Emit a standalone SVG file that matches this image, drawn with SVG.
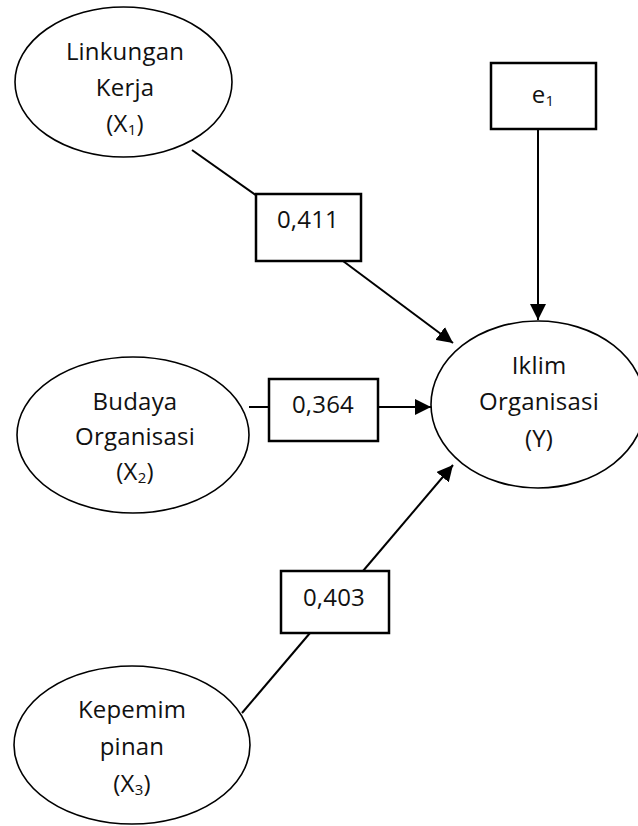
<svg xmlns="http://www.w3.org/2000/svg" width="638" height="826" viewBox="0 0 638 826">
<style>
.el{fill:#fff;stroke:#000;stroke-width:1.6}
.bx{fill:#fff;stroke:#000;stroke-width:2.5}
.ln{fill:none;stroke:#000;stroke-width:2}
text{font-family:"Open Sans","Liberation Sans",sans-serif;font-size:24px;letter-spacing:0.2px;fill:#111;text-anchor:middle}
.sub{font-size:15px}
</style>
<defs>
<marker id="ah" markerWidth="16" markerHeight="16" viewBox="0 0 16 16" refX="16" refY="8" orient="auto" markerUnits="userSpaceOnUse">
<path d="M0,0 L16,8 L0,16 Z" fill="#000"/>
</marker>
</defs>
<g id="connectors">
<line class="ln" x1="192" y1="150" x2="257" y2="196"/>
<line class="ln" x1="343" y1="261" x2="453" y2="343" marker-end="url(#ah)"/>
<line class="ln" x1="538" y1="129" x2="538" y2="320" marker-end="url(#ah)"/>
<line class="ln" x1="249" y1="407" x2="269" y2="407"/>
<line class="ln" x1="378" y1="407" x2="431" y2="407" marker-end="url(#ah)"/>
<line class="ln" x1="242" y1="713" x2="310" y2="633"/>
<line class="ln" x1="363" y1="571" x2="453" y2="465" marker-end="url(#ah)"/>
</g>
<g id="x1">
<ellipse class="el" cx="123.5" cy="82" rx="108.5" ry="75"/>
<text x="125" y="60">Linkungan</text>
<text x="125" y="96">Kerja</text>
<text x="125" y="132">(X<tspan class="sub" dy="3">1</tspan><tspan dy="-3">)</tspan></text>
</g>
<g id="e1">
<rect class="bx" x="491" y="63" width="105" height="66"/>
<text x="543" y="103">e<tspan class="sub" dy="3">1</tspan></text>
</g>
<g id="b411">
<rect class="bx" x="256" y="194" width="105" height="67"/>
<text x="308" y="228">0,411</text>
</g>
<g id="y">
<ellipse class="el" cx="538" cy="404.5" rx="107" ry="83.5"/>
<text x="539" y="374">Iklim</text>
<text x="539" y="410">Organisasi</text>
<text x="539" y="447">(Y)</text>
</g>
<g id="x2">
<ellipse class="el" cx="133" cy="435" rx="116" ry="78"/>
<text x="135" y="410">Budaya</text>
<text x="135" y="445">Organisasi</text>
<text x="135" y="480">(X<tspan class="sub" dy="3">2</tspan><tspan dy="-3">)</tspan></text>
</g>
<g id="b364">
<rect class="bx" x="269" y="379" width="109" height="62"/>
<text x="323" y="413">0,364</text>
</g>
<g id="b403">
<rect class="bx" x="281" y="571" width="108" height="62"/>
<text x="334" y="606">0,403</text>
</g>
<g id="x3">
<ellipse class="el" cx="132" cy="745" rx="118" ry="79"/>
<text x="132" y="718">Kepemim</text>
<text x="132" y="755">pinan</text>
<text x="132" y="792">(X<tspan class="sub" dy="3">3</tspan><tspan dy="-3">)</tspan></text>
</g>
</svg>
